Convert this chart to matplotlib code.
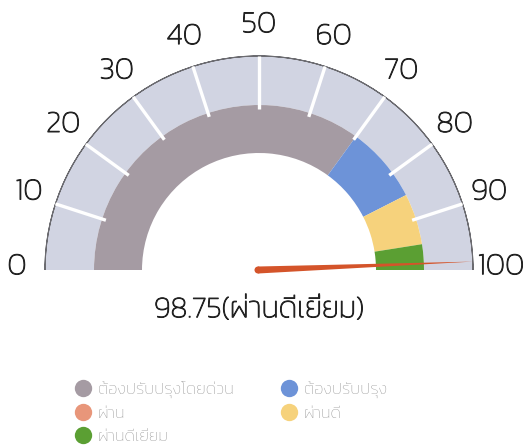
import numpy as np
import matplotlib
matplotlib.use("Agg")
import matplotlib.pyplot as plt
import matplotlib.patheffects as pe
from matplotlib.patches import Wedge, Polygon, Circle
from matplotlib.lines import Line2D

plt.rcParams['font.family'] = ['Kanit', 'DejaVu Sans']

# ---------------- data ----------------
score = 98.75
score_label = "ผ่านดีเยี่ยม"
categories = ["ต้องปรับปรุงโดยด่วน", "ต้องปรับปรุง", "ผ่าน", "ผ่านดี", "ผ่านดีเยี่ยม"]
band_start = [0, 70, 85, 85, 95]
band_end = [70, 85, 85, 95, 100]
band_colors = ["#a59ba3", "#6d93d8", "#e8967a", "#f6d27c", "#5b9f33"]
tick_values = [0, 10, 20, 30, 40, 50, 60, 70, 80, 90, 100]

# ---------------- layout (pixels) ----------------
W, H = 526, 448
cx, cy = 259, H - 270
r_outer = 214
r_band_out, r_band_in = 165, 117
bold = [pe.withStroke(linewidth=0.7, foreground="#222222")]


def ang(v):
    return 180.0 * (1 - v / 100.0)


fig = plt.figure(figsize=(W / 100, H / 100), dpi=100)
ax = fig.add_axes([0, 0, 1, 1])
ax.set_xlim(0, W)
ax.set_ylim(0, H)
ax.set_aspect("equal")
ax.axis("off")

# outer light band
ax.add_patch(Wedge((cx, cy), r_outer, 0, 180, width=r_outer - r_band_out,
                   facecolor="#d1d4e2", edgecolor="none"))
ax.add_patch(Wedge((cx, cy), r_outer, 0, 180, width=0, facecolor="none",
                   edgecolor="#6b6b70", linewidth=0.8))

# coloured bands
for s, e, c in zip(band_start, band_end, band_colors):
    if e > s:
        ax.add_patch(Wedge((cx, cy), r_band_out, ang(e), ang(s),
                           width=r_band_out - r_band_in, facecolor=c, edgecolor="none"))

# white ticks and labels
for v in tick_values:
    t = np.radians(ang(v))
    if 0 < v < 100:
        ax.plot([cx + 161 * np.cos(t), cx + r_outer * np.cos(t)],
                [cy + 161 * np.sin(t), cy + r_outer * np.sin(t)],
                color="white", linewidth=2.4, solid_capstyle="butt")
    ax.text(cx + 242 * np.cos(t), cy + 242 * np.sin(t) + 3, str(v),
            ha="center", va="center", fontsize=22, fontweight="light",
            color="#222222", path_effects=bold)

# needle
t = np.radians(ang(score))
px, py = -np.sin(t), np.cos(t)
bx, by = cx - 1, cy
half = 3.5
needle = Polygon([(bx + half * px, by + half * py),
                  (cx + r_outer * np.cos(t), cy + r_outer * np.sin(t)),
                  (bx - half * px, by - half * py)],
                 closed=True, facecolor="#d4542a", edgecolor="none")
ax.add_patch(needle)
ax.add_patch(Circle((bx, by), half, facecolor="#d4542a", edgecolor="none"))

# value text
ax.text(cx, H - 310, f"{score:.2f}({score_label})", ha="center", va="center",
        fontsize=21.5, fontweight="light", color="#222222", path_effects=bold)

# legend
handles = [Line2D([], [], linestyle="none", marker="o", markersize=12.5,
                  markerfacecolor=c, markeredgecolor="none") for c in band_colors]
order = [0, 2, 4, 1, 3]
leg = fig.legend([handles[i] for i in order], [categories[i] for i in order],
                 ncol=2, loc="upper left", bbox_to_anchor=(58 / W, 1 - 366 / H),
                 frameon=False, fontsize=12, handletextpad=0.3, columnspacing=2.7,
                 labelspacing=0.5, handlelength=1.2)
for txt in leg.get_texts():
    txt.set_color("#999999")
    txt.set_fontweight("light")

fig.savefig("out.png", dpi=100)
